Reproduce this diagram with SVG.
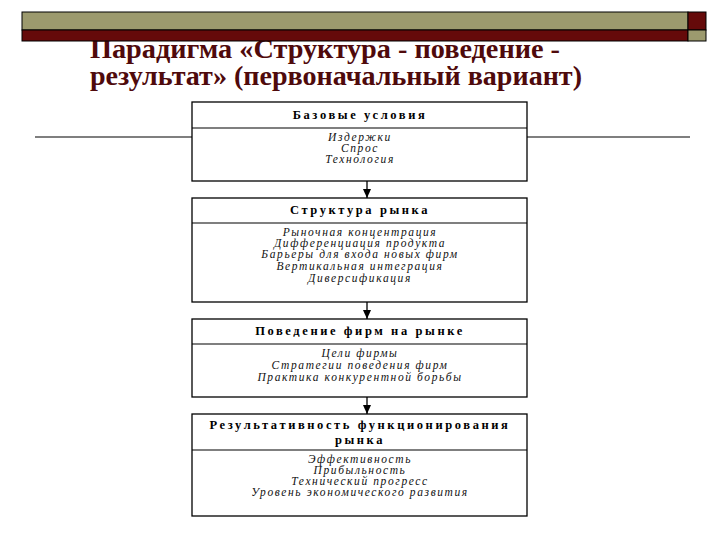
<svg xmlns="http://www.w3.org/2000/svg" width="720" height="540" viewBox="0 0 720 540">
<style>
.title{font-family:"Liberation Serif","Times New Roman",serif;font-weight:bold;font-size:28px;fill:#4f0a0c}
.box{fill:#fff;stroke:#000;stroke-width:1.3}
.div{stroke:#000;stroke-width:1.2}
.hd{font-family:"Liberation Serif",serif;font-weight:bold;font-size:12.5px;letter-spacing:2.6px;text-anchor:middle;fill:#000}
.it{font-family:"Liberation Serif",serif;font-style:italic;font-size:11.5px;letter-spacing:1.6px;text-anchor:middle;fill:#111}
.con{stroke:#000;stroke-width:1.3;marker-end:url(#ah)}
</style>
<defs>
<marker id="ah" markerWidth="10" markerHeight="8" refX="9" refY="4" orient="auto" markerUnits="userSpaceOnUse">
<path d="M0,0 L9,4 L0,8 Z" fill="#000"/>
</marker>
</defs>
<rect width="720" height="540" fill="#fff"/>
<g id="title">
<text class="title" x="90" y="58" textLength="470" lengthAdjust="spacingAndGlyphs">Парадигма «Структура - поведение -</text>
<text class="title" x="90" y="85" textLength="492" lengthAdjust="spacingAndGlyphs">результат» (первоначальный вариант)</text>
</g>
<g id="banner">
<rect x="22" y="12" width="666" height="18" fill="#9c9a6e" stroke="#000" stroke-width="1"/>
<rect x="22" y="30" width="666" height="11" fill="#650a0a" stroke="#000" stroke-width="1"/>
<rect x="688" y="12" width="18" height="18" fill="#650a0a" stroke="#000" stroke-width="1"/>
<rect x="688" y="30" width="18" height="11" fill="#9c9a6e" stroke="#000" stroke-width="1"/>
</g>
<line x1="35" y1="137" x2="690" y2="137" stroke="#000" stroke-width="1.2"/>
<g id="connectors">
<line class="con" x1="367" y1="181" x2="367" y2="198"/>
<line class="con" x1="367" y1="302" x2="367" y2="319"/>
<line class="con" x1="367" y1="397" x2="367" y2="414"/>
</g>
<g id="node-base">
<rect class="box" x="192" y="102" width="335" height="79"/>
<line class="div" x1="192" y1="128" x2="527" y2="128"/>
<text class="hd" x="360" y="119">Базовые условия</text>
<text class="it" x="360" y="141">Издержки</text>
<text class="it" x="360" y="152">Спрос</text>
<text class="it" x="360" y="163">Технология</text>
</g>
<g id="node-structure">
<rect class="box" x="192" y="198" width="335" height="104"/>
<line class="div" x1="192" y1="223" x2="527" y2="223"/>
<text class="hd" x="360" y="214">Структура рынка</text>
<text class="it" x="360" y="236">Рыночная концентрация</text>
<text class="it" x="360" y="247">Дифференциация продукта</text>
<text class="it" x="360" y="258">Барьеры для входа новых фирм</text>
<text class="it" x="360" y="270">Вертикальная интеграция</text>
<text class="it" x="360" y="282">Диверсификация</text>
</g>
<g id="node-conduct">
<rect class="box" x="192" y="319" width="335" height="78"/>
<line class="div" x1="192" y1="344" x2="527" y2="344"/>
<text class="hd" x="360" y="335">Поведение фирм на рынке</text>
<text class="it" x="360" y="357">Цели фирмы</text>
<text class="it" x="360" y="369">Стратегии поведения фирм</text>
<text class="it" x="360" y="381">Практика конкурентной борьбы</text>
</g>
<g id="node-performance">
<rect class="box" x="192" y="414" width="335" height="102"/>
<line class="div" x1="192" y1="450" x2="527" y2="450"/>
<text class="hd" x="360" y="429">Результативность функционирования</text>
<text class="hd" x="360" y="444">рынка</text>
<text class="it" x="360" y="463">Эффективность</text>
<text class="it" x="360" y="474">Прибыльность</text>
<text class="it" x="360" y="485">Технический прогресс</text>
<text class="it" x="360" y="496">Уровень экономического развития</text>
</g>
</svg>
